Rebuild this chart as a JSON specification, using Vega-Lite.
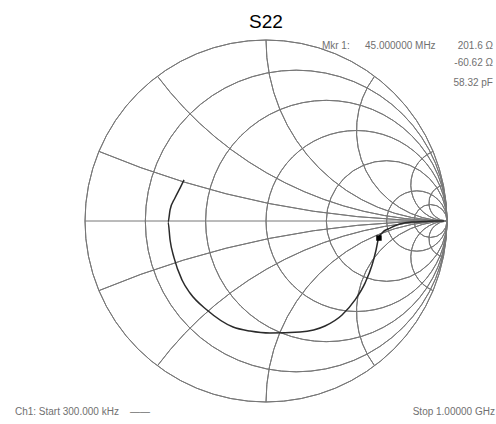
{
  "$schema": "https://vega.github.io/schema/vega-lite/v6.json",
  "width": 362,
  "height": 362,
  "autosize": {"type": "none"},
  "padding": {"left": 85, "top": 40, "right": 49, "bottom": 22},
  "background": "white",
  "title": {"text": "S22", "fontSize": 19, "font": "Liberation Sans", "fontWeight": "normal", "color": "#000000", "anchor": "middle", "offset": 9, "baseline": "bottom", "dy": 22},
  "config": {"view": {"stroke": null}},
  "datasets": {
    "grid": [
      {"cx": 0, "cy": 0, "rad": 1, "t1": 0, "t2": 360},
      {"cx": 0.16667, "cy": 0, "rad": 0.83333, "t1": 0, "t2": 360},
      {"cx": 0.33333, "cy": 0, "rad": 0.66667, "t1": 0, "t2": 360},
      {"cx": 0.5, "cy": 0, "rad": 0.5, "t1": 0, "t2": 360},
      {"cx": 0.66667, "cy": 0, "rad": 0.33333, "t1": 0, "t2": 360},
      {"cx": 0.83333, "cy": 0, "rad": 0.16667, "t1": 0, "t2": 360},
      {"cx": 0.90909, "cy": 0, "rad": 0.09091, "t1": 0, "t2": 360},
      {"cx": 1, "cy": 5, "rad": 5, "t1": -180, "t2": -157.38},
      {"cx": 1, "cy": 2, "rad": 2, "t1": -180, "t2": -126.87},
      {"cx": 1, "cy": 1, "rad": 1, "t1": -180, "t2": -90},
      {"cx": 1, "cy": 0.5, "rad": 0.5, "t1": -180, "t2": -53.13},
      {"cx": 1, "cy": 0.2, "rad": 0.2, "t1": -180, "t2": -22.62},
      {"cx": 1, "cy": 0.1, "rad": 0.1, "t1": -180, "t2": -11.42},
      {"cx": 1, "cy": -5, "rad": 5, "t1": -22.62, "t2": 0},
      {"cx": 1, "cy": -2, "rad": 2, "t1": -53.13, "t2": 0},
      {"cx": 1, "cy": -1, "rad": 1, "t1": -90, "t2": 0},
      {"cx": 1, "cy": -0.5, "rad": 0.5, "t1": -126.87, "t2": 0},
      {"cx": 1, "cy": -0.2, "rad": 0.2, "t1": -157.38, "t2": 0},
      {"cx": 1, "cy": -0.1, "rad": 0.1, "t1": -168.58, "t2": 0}
    ],
    "axisline": [{"xa": -1, "xb": 1, "y": 0}],
    "trace": [
      {"i": 0, "gx": 0.983, "gy": 0.0},
      {"i": 1, "gx": 0.934, "gy": 0.0},
      {"i": 2, "gx": 0.878, "gy": -0.003},
      {"i": 3, "gx": 0.807, "gy": -0.006},
      {"i": 4, "gx": 0.74, "gy": -0.017},
      {"i": 5, "gx": 0.685, "gy": -0.039},
      {"i": 6, "gx": 0.641, "gy": -0.066},
      {"i": 7, "gx": 0.622, "gy": -0.094},
      {"i": 8, "gx": 0.608, "gy": -0.16},
      {"i": 9, "gx": 0.586, "gy": -0.243},
      {"i": 10, "gx": 0.547, "gy": -0.343},
      {"i": 11, "gx": 0.492, "gy": -0.436},
      {"i": 12, "gx": 0.42, "gy": -0.519},
      {"i": 13, "gx": 0.326, "gy": -0.58},
      {"i": 14, "gx": 0.188, "gy": -0.613},
      {"i": 15, "gx": 0.022, "gy": -0.619},
      {"i": 16, "gx": -0.088, "gy": -0.608},
      {"i": 17, "gx": -0.182, "gy": -0.586},
      {"i": 18, "gx": -0.326, "gy": -0.492},
      {"i": 19, "gx": -0.42, "gy": -0.398},
      {"i": 20, "gx": -0.464, "gy": -0.326},
      {"i": 21, "gx": -0.508, "gy": -0.204},
      {"i": 22, "gx": -0.53, "gy": -0.105},
      {"i": 23, "gx": -0.541, "gy": -0.006},
      {"i": 24, "gx": -0.53, "gy": 0.061},
      {"i": 25, "gx": -0.503, "gy": 0.127},
      {"i": 26, "gx": -0.475, "gy": 0.182},
      {"i": 27, "gx": -0.453, "gy": 0.227}
    ],
    "marker": [{"gx": 0.624, "gy": -0.094}],
    "leftText": [
      {"gx": 0.309, "gy": 0.967, "label": "Mkr 1:"},
      {"gx": 0.547, "gy": 0.967, "label": "45.000000 MHz"},
      {"gx": -1.387, "gy": -1.055, "label": "Ch1: Start 300.000 kHz"},
      {"gx": -0.751, "gy": -1.055, "label": "——"}
    ],
    "rightText": [
      {"gx": 1.254, "gy": 0.967, "label": "201.6 Ω"},
      {"gx": 1.254, "gy": 0.873, "label": "-60.62 Ω"},
      {"gx": 1.254, "gy": 0.762, "label": "58.32 pF"},
      {"gx": 1.265, "gy": -1.055, "label": "Stop 1.00000 GHz"}
    ]
  },
  "layer": [
    {
      "data": {"name": "grid"},
      "mark": {"type": "arc", "filled": false, "color": "#777777", "strokeWidth": 1},
      "encoding": {
        "x": {"field": "cx", "type": "quantitative", "scale": {"domain": [-1, 1], "nice": false, "zero": false}, "axis": null},
        "y": {"field": "cy", "type": "quantitative", "scale": {"domain": [-1, 1], "nice": false, "zero": false}, "axis": null},
        "theta": {"field": "t1", "type": "quantitative", "stack": null, "scale": {"type": "linear", "domain": [0, 360], "range": [0, 6.283185307179586], "zero": false}},
        "theta2": {"field": "t2"},
        "radius": {"field": "rad", "type": "quantitative", "scale": {"type": "linear", "domain": [0, 1], "range": [0, 181], "zero": true}},
        "radius2": {"field": "rad"}
      }
    },
    {
      "data": {"name": "axisline"},
      "mark": {"type": "rule", "color": "#777777", "strokeWidth": 1},
      "encoding": {
        "x": {"field": "xa", "type": "quantitative"},
        "x2": {"field": "xb"},
        "y": {"field": "y", "type": "quantitative"}
      }
    },
    {
      "data": {"name": "trace"},
      "mark": {"type": "line", "color": "#2a2a2a", "strokeWidth": 1.5, "interpolate": "monotone"},
      "encoding": {
        "x": {"field": "gx", "type": "quantitative"},
        "y": {"field": "gy", "type": "quantitative"},
        "order": {"field": "i", "type": "quantitative"}
      }
    },
    {
      "data": {"name": "marker"},
      "mark": {"type": "point", "shape": "square", "filled": true, "color": "#000000", "size": 30, "opacity": 1},
      "encoding": {
        "x": {"field": "gx", "type": "quantitative"},
        "y": {"field": "gy", "type": "quantitative"}
      }
    },
    {
      "data": {"name": "leftText"},
      "mark": {"type": "text", "align": "left", "baseline": "middle", "fontSize": 10, "font": "Liberation Sans", "color": "#707070"},
      "encoding": {
        "x": {"field": "gx", "type": "quantitative"},
        "y": {"field": "gy", "type": "quantitative"},
        "text": {"field": "label"}
      }
    },
    {
      "data": {"name": "rightText"},
      "mark": {"type": "text", "align": "right", "baseline": "middle", "fontSize": 10, "font": "Liberation Sans", "color": "#707070"},
      "encoding": {
        "x": {"field": "gx", "type": "quantitative"},
        "y": {"field": "gy", "type": "quantitative"},
        "text": {"field": "label"}
      }
    }
  ]
}
